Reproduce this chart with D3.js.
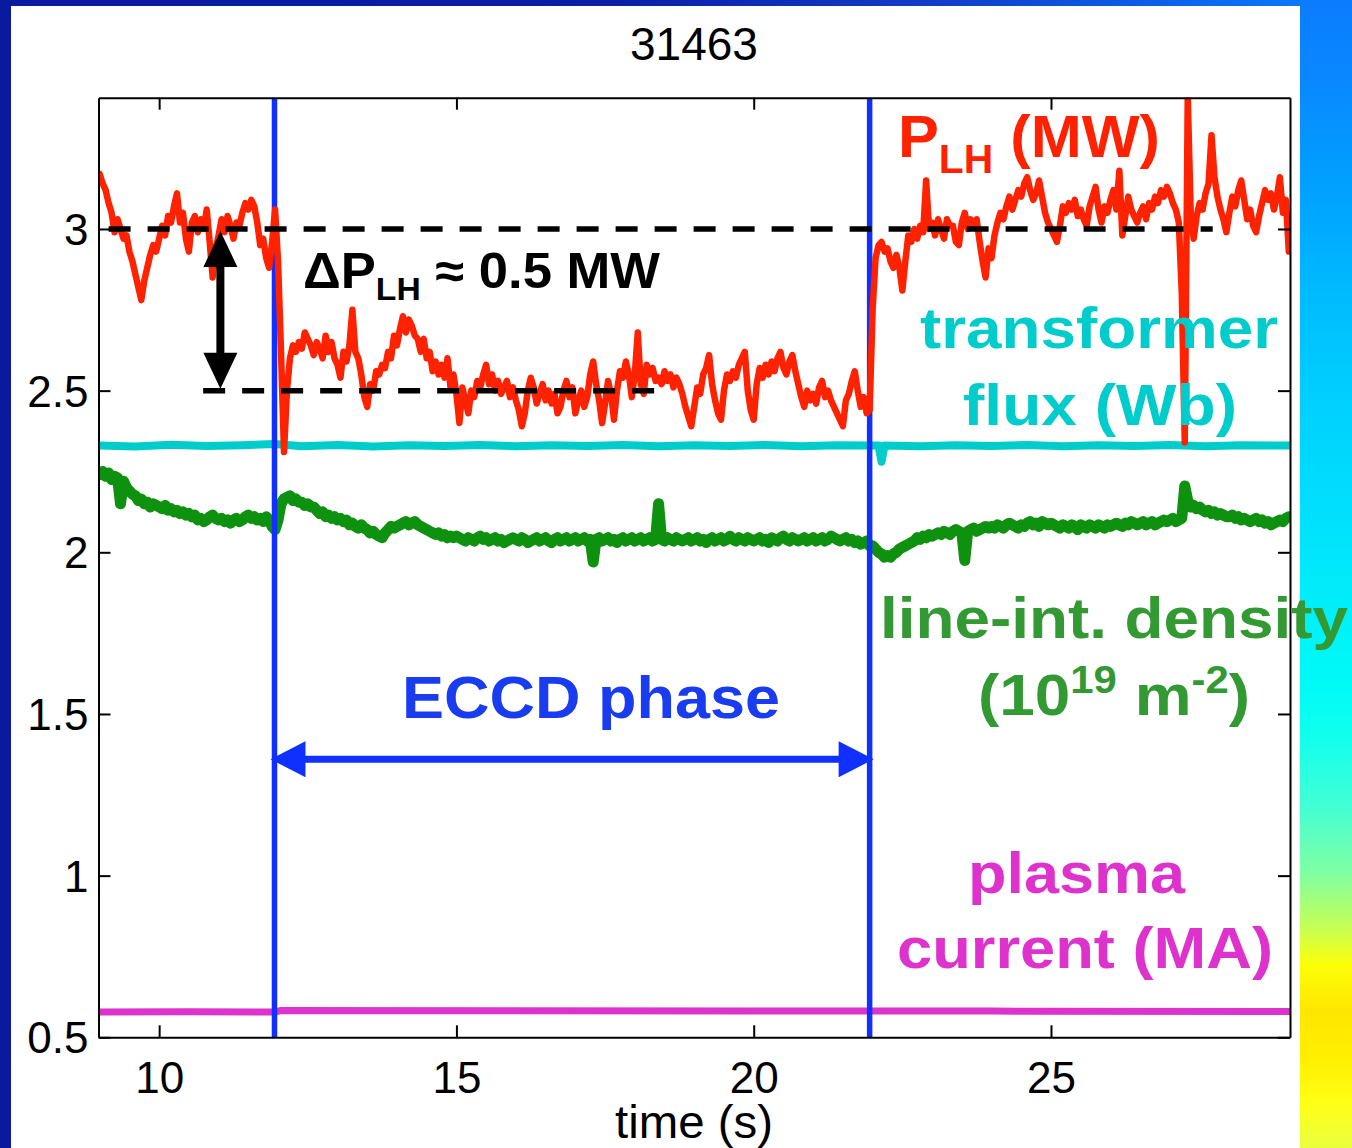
<!DOCTYPE html>
<html>
<head>
<meta charset="utf-8">
<script src="https://cdn.jsdelivr.net/npm/d3@7"></script>
<style>
  html, body { margin: 0; padding: 0; background: #0a1a9e; }
  svg { display: block; }
  text { white-space: pre; }
</style>
</head>
<body>
<svg id="chart" width="1352" height="1148"></svg>
<script>
// ---- axis ranges and tick labels ----
const timeDomain = [8.98, 29.02];
const valueDomain = [0.5, 3.406];
const xTickValues = [10, 15, 20, 25];
const yTickValues = [0.5, 1, 1.5, 2, 2.5, 3];
const yTickLabels = ["0.5", "1", "1.5", "2", "2.5", "3"];
const shotNumber = "31463";
const xAxisTitle = "time (s)";

// ---- LH power (MW), sampled every 0.05 s from 9 s ----
const plhStart = 9, plhStep = 0.05;
const plhValues = [
  3.17,3.14,3.12,3.08,3.05,2.99,3.03,3.00,2.97,2.98,2.93,2.90,2.86,2.82,2.78,2.84,2.88,2.92,2.95,2.93,
  2.97,3.01,2.98,3.04,3.02,3.07,3.11,3.02,3.05,2.97,2.93,3.02,3.04,2.99,3.03,3.00,3.06,2.96,2.85,2.94,
  2.98,3.03,2.99,3.04,3.01,2.97,3.02,3.01,3.05,3.08,3.06,3.09,3.07,3.02,2.95,2.97,2.91,2.88,2.96,3.06,
  2.90,2.62,2.31,2.50,2.60,2.64,2.62,2.65,2.63,2.68,2.66,2.64,2.61,2.65,2.63,2.60,2.67,2.62,2.65,2.60,
  2.58,2.54,2.62,2.59,2.64,2.75,2.62,2.60,2.55,2.48,2.45,2.52,2.50,2.56,2.55,2.58,2.57,2.62,2.60,2.67,
  2.64,2.69,2.73,2.68,2.72,2.70,2.67,2.66,2.62,2.66,2.60,2.62,2.56,2.59,2.55,2.58,2.54,2.60,2.51,2.55,
  2.49,2.40,2.51,2.47,2.43,2.50,2.48,2.53,2.51,2.55,2.58,2.52,2.55,2.50,2.53,2.49,2.51,2.53,2.48,2.51,
  2.47,2.44,2.39,2.43,2.50,2.54,2.51,2.46,2.49,2.52,2.47,2.50,2.46,2.49,2.43,2.45,2.50,2.53,2.48,2.51,
  2.43,2.47,2.50,2.45,2.48,2.55,2.59,2.52,2.47,2.40,2.46,2.53,2.49,2.41,2.50,2.56,2.54,2.59,2.55,2.48,
  2.55,2.68,2.52,2.49,2.58,2.55,2.57,2.53,2.54,2.52,2.56,2.53,2.55,2.51,2.54,2.52,2.49,2.45,2.42,2.39,
  2.45,2.51,2.49,2.55,2.57,2.61,2.52,2.47,2.43,2.41,2.50,2.55,2.53,2.56,2.54,2.58,2.60,2.62,2.50,2.44,
  2.41,2.52,2.57,2.54,2.58,2.55,2.59,2.56,2.60,2.62,2.57,2.55,2.59,2.61,2.56,2.52,2.48,2.45,2.50,2.47,
  2.49,2.46,2.51,2.53,2.48,2.50,2.47,2.45,2.43,2.41,2.39,2.47,2.49,2.53,2.56,2.50,2.45,2.48,2.43,2.44,
  2.75,2.91,2.95,2.96,2.93,2.94,2.90,2.88,2.92,2.88,2.81,2.90,2.98,2.96,3.00,2.97,3.01,2.99,3.15,3.00,
  3.02,2.98,3.03,3.00,2.97,3.03,3.01,3.01,2.96,2.95,3.02,3.05,3.00,3.03,3.01,3.03,2.96,2.90,2.85,2.94,
  2.91,2.98,3.02,3.05,3.03,3.07,3.10,3.06,3.09,3.12,3.10,3.14,3.16,3.12,3.09,3.11,3.15,3.10,3.05,3.02,
  3.00,2.98,2.96,3.01,3.07,3.05,3.08,3.06,3.09,3.04,3.06,3.03,3.01,3.07,3.10,3.13,3.06,3.02,3.07,3.05,
  3.09,3.12,3.06,3.18,2.98,3.04,3.10,3.06,3.04,3.02,3.05,3.07,3.03,3.08,3.06,3.10,3.08,3.12,3.10,3.13,
  3.11,3.08,3.06,3.02,2.80,2.34,3.41,3.05,2.97,3.04,3.08,3.06,3.11,3.14,3.29,3.16,3.10,3.06,3.03,2.99,
  3.05,3.10,3.07,3.12,3.15,3.09,3.03,3.06,3.01,2.99,3.04,3.08,3.12,3.09,3.11,3.06,3.10,3.16,3.05,3.09,
  2.93
];

// ---- line-integrated density (1e19 m^-2), sampled every 0.05 s from 9 s ----
const densityStart = 9, densityStep = 0.05;
const densityValues = [
  2.24,2.25,2.235,2.245,2.225,2.235,2.23,2.15,2.22,2.20,2.19,2.18,2.175,2.16,2.165,2.15,2.155,2.14,2.15,2.145,
  2.14,2.135,2.145,2.13,2.135,2.125,2.13,2.12,2.125,2.115,2.12,2.11,2.115,2.10,2.105,2.095,2.10,2.11,2.115,2.105,
  2.10,2.105,2.095,2.10,2.09,2.10,2.105,2.095,2.10,2.11,2.115,2.105,2.11,2.10,2.105,2.095,2.11,2.10,2.08,2.07,
  2.10,2.15,2.165,2.17,2.175,2.16,2.165,2.155,2.155,2.145,2.15,2.14,2.14,2.13,2.12,2.125,2.11,2.115,2.105,2.11,
  2.10,2.105,2.095,2.10,2.085,2.09,2.08,2.075,2.085,2.075,2.07,2.06,2.065,2.055,2.05,2.045,2.06,2.07,2.08,2.075,
  2.08,2.085,2.09,2.095,2.085,2.09,2.095,2.085,2.08,2.075,2.07,2.065,2.06,2.055,2.06,2.05,2.055,2.045,2.05,2.045,
  2.05,2.045,2.04,2.035,2.045,2.04,2.035,2.045,2.05,2.04,2.045,2.035,2.04,2.045,2.035,2.04,2.03,2.035,2.04,2.045,
  2.04,2.035,2.045,2.04,2.03,2.035,2.04,2.045,2.035,2.04,2.045,2.035,2.03,2.04,2.045,2.035,2.04,2.045,2.035,2.04,
  2.045,2.035,2.04,2.045,2.035,2.04,1.97,2.04,2.045,2.035,2.04,2.045,2.035,2.04,2.03,2.04,2.045,2.035,2.04,2.045,
  2.035,2.04,2.045,2.035,2.04,2.045,2.035,2.04,2.15,2.04,2.035,2.045,2.04,2.035,2.045,2.04,2.035,2.04,2.045,2.035,
  2.04,2.045,2.035,2.04,2.03,2.04,2.045,2.035,2.04,2.045,2.035,2.04,2.05,2.04,2.035,2.045,2.04,2.035,2.045,2.04,
  2.035,2.04,2.045,2.035,2.04,2.03,2.045,2.04,2.035,2.045,2.05,2.04,2.035,2.045,2.04,2.035,2.04,2.045,2.035,2.04,
  2.045,2.035,2.04,2.045,2.035,2.04,2.05,2.045,2.04,2.035,2.04,2.045,2.035,2.04,2.03,2.035,2.025,2.03,2.035,2.02,
  2.02,2.01,2.00,1.995,1.985,1.99,1.985,1.995,2.00,2.01,2.015,2.02,2.025,2.03,2.035,2.045,2.04,2.05,2.045,2.055,
  2.05,2.055,2.06,2.055,2.065,2.06,2.055,2.065,2.07,2.065,2.06,1.975,2.065,2.07,2.075,2.065,2.07,2.075,2.08,2.075,
  2.08,2.075,2.085,2.08,2.075,2.085,2.09,2.085,2.08,2.075,2.085,2.08,2.09,2.095,2.085,2.09,2.08,2.095,2.09,2.085,
  2.09,2.085,2.08,2.075,2.085,2.08,2.075,2.085,2.08,2.07,2.085,2.08,2.075,2.085,2.08,2.075,2.085,2.08,2.075,2.085,
  2.08,2.085,2.09,2.085,2.08,2.09,2.085,2.095,2.09,2.085,2.09,2.095,2.085,2.09,2.095,2.085,2.09,2.095,2.10,2.095,
  2.10,2.105,2.095,2.10,2.105,2.205,2.16,2.14,2.145,2.135,2.14,2.13,2.125,2.13,2.12,2.125,2.115,2.12,2.115,2.11,
  2.11,2.115,2.105,2.11,2.10,2.105,2.10,2.095,2.10,2.105,2.095,2.10,2.09,2.095,2.085,2.09,2.095,2.10,2.095,2.105,
  2.11
];

// ---- transformer flux (Wb): [time, value] ----
const fluxPoints = [
  [9,2.330],[9.6,2.327],[10.2,2.333],[10.8,2.329],[11.4,2.331],[11.95,2.335],[12.4,2.328],
  [13,2.332],[13.6,2.327],[14.2,2.331],[14.8,2.329],[15.4,2.332],[16,2.328],[16.6,2.331],
  [17.2,2.329],[17.8,2.332],[18.4,2.328],[19,2.331],[19.6,2.329],[20.2,2.332],[20.8,2.328],
  [21.4,2.331],[21.95,2.330],[22.1,2.330],[22.15,2.28],[22.2,2.330],[22.8,2.328],[23.4,2.331],
  [24,2.329],[24.6,2.332],[25.2,2.328],[25.8,2.331],[26.4,2.329],[27,2.332],[27.6,2.328],
  [28.2,2.331],[29,2.330]
];

// ---- plasma current (MA): [time, value] ----
const currentPoints = [
  [9,0.578],[10.5,0.579],[11.95,0.578],[12.05,0.583],[16,0.582],[20,0.581],[24,0.581],[29,0.580]
];

// ---- ECCD window and reference levels ----
const eccdWindow = [11.94, 21.95];
const eccdArrowLevel = 1.36;
const plhLevels = [3.0, 2.5];
const plhLevelSpans = [[9.15, 27.72], [10.74, 18.57]];
const deltaArrowTime = 11.03;

// ---- drawing ----
const FONT = "'Liberation Sans', Arial, Helvetica, sans-serif";
const plot = { left: 98.5, right: 1290, top: 97.7, bottom: 1037.3 };
const svg = d3.select("#chart");

const x = d3.scaleLinear().domain(timeDomain).range([plot.left, plot.right]);
const y = d3.scaleLinear().domain(valueDomain).range([plot.bottom, plot.top]);

// slide background
const defs = svg.append("defs");
const topGrad = defs.append("linearGradient").attr("id", "topBand")
  .attr("x1", 0).attr("x2", 1).attr("y1", 0).attr("y2", 0);
[[0, "#0a1a9e"], [0.45, "#0a1ea6"], [0.7, "#123ec8"], [0.9, "#0a6af0"], [1, "#0a80ff"]]
  .forEach(([o, c]) => topGrad.append("stop").attr("offset", o).attr("stop-color", c));
const sideGrad = defs.append("linearGradient").attr("id", "sideBand")
  .attr("x1", 0).attr("x2", 0).attr("y1", 0).attr("y2", 1);
[[0, "#0a7cff"], [0.07, "#0a88ff"], [0.16, "#00a0ff"], [0.26, "#00bcff"], [0.35, "#00d0ff"],
 [0.47, "#00e4fc"], [0.6, "#00fbf6"], [0.64, "#10ffee"], [0.7, "#40ffd6"], [0.76, "#80ffa4"],
 [0.81, "#c8ff50"], [0.84, "#fcff08"], [0.88, "#ffe600"], [0.92, "#ffee00"], [0.96, "#ffff14"],
 [1, "#eaff40"]]
  .forEach(([o, c]) => sideGrad.append("stop").attr("offset", o).attr("stop-color", c));

svg.append("rect").attr("width", 1352).attr("height", 1148).attr("fill", "#0a1a9e");
svg.append("rect").attr("x", 0).attr("y", 0).attr("width", 1352).attr("height", 6).attr("fill", "url(#topBand)");
svg.append("rect").attr("x", 1300).attr("y", 0).attr("width", 52).attr("height", 1148).attr("fill", "url(#sideBand)");
svg.append("rect").attr("x", 11).attr("y", 6).attr("width", 1289).attr("height", 1142).attr("fill", "#ffffff");

defs.append("clipPath").attr("id", "plotClip").append("rect")
  .attr("x", plot.left).attr("y", plot.top)
  .attr("width", plot.right - plot.left).attr("height", plot.bottom - plot.top);

const data = svg.append("g").attr("clip-path", "url(#plotClip)");
const line = d3.line().x(d => x(d[0])).y(d => y(d[1]));

const plhSeries = plhValues.map((v, i) => [plhStart + i * plhStep, v]);
const densitySeries = densityValues.map((v, i) => [densityStart + i * densityStep, v]);

function trace(points, color, width) {
  data.append("path").datum(points).attr("d", line)
    .attr("fill", "none").attr("stroke", color).attr("stroke-width", width)
    .attr("stroke-linejoin", "round").attr("stroke-linecap", "round");
}

trace(currentPoints, "#dd33cc", 7);
trace(fluxPoints, "#00cccc", 8);
trace(densitySeries, "#0e910e", 11);

// ECCD start/stop markers
data.selectAll("line.eccd").data(eccdWindow).enter().append("line")
  .attr("class", "eccd")
  .attr("x1", d => x(d)).attr("x2", d => x(d))
  .attr("y1", plot.top).attr("y2", plot.bottom)
  .attr("stroke", "#1030ff").attr("stroke-width", 5.5);

trace(plhSeries, "#ff2200", 6.5);

// reference levels of LH power
data.selectAll("line.level").data(plhLevels).enter().append("line")
  .attr("class", "level")
  .attr("x1", (d, i) => x(plhLevelSpans[i][0])).attr("x2", (d, i) => x(plhLevelSpans[i][1]))
  .attr("y1", d => y(d)).attr("y2", d => y(d))
  .attr("stroke", "#000").attr("stroke-width", 5.5).attr("stroke-dasharray", "22 17");

// axes
const axes = svg.append("g").attr("font-family", FONT);
axes.append("g").attr("transform", `translate(0,${plot.bottom})`)
  .call(d3.axisBottom(x).tickValues(xTickValues).tickSizeInner(-12).tickSizeOuter(0).tickPadding(24));
axes.append("g").attr("transform", `translate(0,${plot.top})`)
  .call(d3.axisTop(x).tickValues(xTickValues).tickSizeInner(-12).tickSizeOuter(0).tickFormat(""));
const yAxis = axes.append("g").attr("transform", `translate(${plot.left},0)`)
  .call(d3.axisLeft(y).tickValues(yTickValues).tickSizeInner(-12).tickSizeOuter(0).tickPadding(10)
    .tickFormat((d, i) => yTickLabels[i]));
axes.append("g").attr("transform", `translate(${plot.right},0)`)
  .call(d3.axisRight(y).tickValues(yTickValues).tickSizeInner(-12).tickSizeOuter(0).tickFormat(""));

axes.selectAll(".domain").attr("stroke", "#000").attr("stroke-width", 2);
axes.selectAll(".tick line").attr("stroke", "#000").attr("stroke-width", 2);
axes.selectAll(".tick text").attr("font-size", 44).attr("fill", "#000").attr("font-family", FONT);
yAxis.selectAll(".tick text").attr("dy", "0.35em");

svg.append("text").attr("x", 694).attr("y", 60).attr("text-anchor", "middle")
  .attr("font-family", FONT).attr("font-size", 46).attr("fill", "#000").text(shotNumber);
svg.append("text").attr("x", 615).attr("y", 1138)
  .attr("font-family", FONT).attr("font-size", 46).attr("fill", "#000")
  .attr("textLength", 158).attr("lengthAdjust", "spacingAndGlyphs").text(xAxisTitle);

// double-headed arrows
function doubleArrowH(x0, x1, yy, color, head, half, width, g) {
  g.append("line").attr("x1", x0 + head - 2).attr("x2", x1 - head + 2).attr("y1", yy).attr("y2", yy)
    .attr("stroke", color).attr("stroke-width", width);
  g.append("path").attr("fill", color)
    .attr("d", `M${x0},${yy} L${x0 + head},${yy - half} L${x0 + head},${yy + half} Z`);
  g.append("path").attr("fill", color)
    .attr("d", `M${x1},${yy} L${x1 - head},${yy - half} L${x1 - head},${yy + half} Z`);
}
function doubleArrowV(xx, y0, y1, color, head, half, width, g) {
  g.append("line").attr("x1", xx).attr("x2", xx).attr("y1", y0 + head - 2).attr("y2", y1 - head + 2)
    .attr("stroke", color).attr("stroke-width", width);
  g.append("path").attr("fill", color)
    .attr("d", `M${xx},${y0} L${xx - half},${y0 + head} L${xx + half},${y0 + head} Z`);
  g.append("path").attr("fill", color)
    .attr("d", `M${xx},${y1} L${xx - half},${y1 - head} L${xx + half},${y1 - head} Z`);
}
const marks = svg.append("g");
doubleArrowH(x(eccdWindow[0]) - 4, x(eccdWindow[1]) + 4, y(eccdArrowLevel), "#1030ff", 35, 18, 7, marks);
doubleArrowV(x(deltaArrowTime), y(plhLevels[0]) + 2, y(plhLevels[1]) - 2, "#000", 36, 17, 8, marks);

// annotation labels
const labelSpecs = [
  { x: 898, y: 157, size: 60, color: "#ff2200", width: 262,
    parts: [{ text: "P" }, { text: "LH", size: 40, dy: 16 }, { text: " (MW)", dy: -16 }] },
  { x: 303, y: 288, size: 50, color: "#000000", width: 357,
    parts: [{ text: "\u0394P" }, { text: "LH", size: 32, dy: 12 }, { text: " \u2248 0.5 MW", dy: -12 }] },
  { x: 920, y: 348, size: 58, color: "#00cccc", width: 358, parts: [{ text: "transformer" }] },
  { x: 963, y: 425, size: 58, color: "#00cccc", width: 274, parts: [{ text: "flux (Wb)" }] },
  { x: 880, y: 638, size: 58, color: "#339933", width: 468, parts: [{ text: "line-int. density" }] },
  { x: 978, y: 715, size: 58, color: "#339933", width: 272,
    parts: [{ text: "(10" }, { text: "19", size: 38, dy: -22 }, { text: " m", dy: 22 },
            { text: "-2", size: 38, dy: -22 }, { text: ")", dy: 22 }] },
  { x: 402, y: 718, size: 60, color: "#1a3cf0", width: 378, parts: [{ text: "ECCD phase" }] },
  { x: 968, y: 893, size: 58, color: "#dd33cc", width: 217, parts: [{ text: "plasma" }] },
  { x: 897, y: 968, size: 58, color: "#dd33cc", width: 376, parts: [{ text: "current (MA)" }] }
];

labelSpecs.forEach(cfg => {
  const t = svg.append("text").attr("x", cfg.x).attr("y", cfg.y)
    .attr("font-family", FONT).attr("font-weight", "bold")
    .attr("font-size", cfg.size).attr("fill", cfg.color)
    .attr("textLength", cfg.width).attr("lengthAdjust", "spacingAndGlyphs");
  cfg.parts.forEach(p => {
    const s = t.append("tspan").text(p.text);
    if (p.size) s.attr("font-size", p.size);
    if (p.dy) s.attr("dy", p.dy);
  });
});
</script>
</body>
</html>
